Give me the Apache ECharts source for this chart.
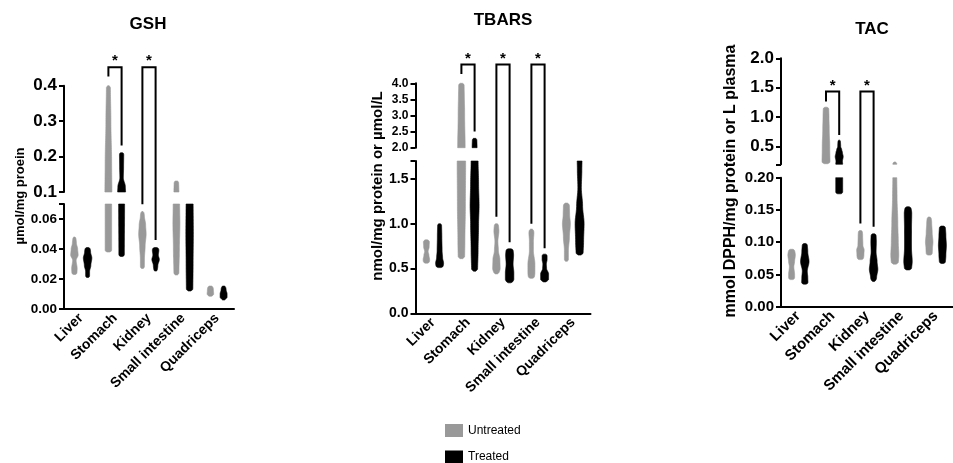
<!DOCTYPE html>
<html><head><meta charset="utf-8">
<script src="https://cdn.jsdelivr.net/npm/echarts@6/dist/echarts.min.js"></script>
<style>html,body{margin:0;padding:0;background:#fff}#c{width:953px;height:463px}</style>
</head><body><div id="c"></div>
<script>
// ---------------- DATA ----------------
const categories = ['Liver', 'Stomach', 'Kidney', 'Small intestine', 'Quadriceps'];
const groupNames = ['Untreated', 'Treated'];

// violin profiles: [value, relative density] from bottom to top, one per category
const gshUntreated = [
  [[0.023,5],[0.027,5.5],[0.0325,3.5],[0.036,7.5],[0.040,6.5],[0.044,4],[0.048,3]],
  [[0.038,6.5],[0.07,6.5],[0.1,7],[0.18,6.5],[0.3,5],[0.4,4]],
  [[0.027,4],[0.033,4],[0.042,5.5],[0.050,7.5],[0.056,6.5],[0.062,4],[0.065,3]],
  [[0.0227,5],[0.04,6],[0.057,7],[0.07,6.5],[0.1,5],[0.131,4.5]],
  [[0.0085,5],[0.01,6.5],[0.013,6],[0.0153,5]]
];
const gshTreated = [
  [[0.021,4],[0.025,4],[0.029,6.5],[0.034,8.5],[0.038,6],[0.041,5]],
  [[0.035,5.5],[0.07,6],[0.1,8],[0.115,7.5],[0.14,3.5],[0.17,4],[0.211,4.3]],
  [[0.0253,3.5],[0.029,4.5],[0.033,7.5],[0.036,5.5],[0.039,6.5],[0.041,6]],
  [[0.012,6.5],[0.03,7],[0.05,7.5],[0.075,7]],
  [[0.006,4],[0.008,7],[0.01,7],[0.013,5],[0.0153,4]]
];
const tbarsUntreated = [
  [[0.56,6],[0.6,6.5],[0.65,5],[0.69,3.5],[0.74,5.5],[0.8,6],[0.82,5]],
  [[0.61,6.5],[0.8,7],[1.2,8],[1.7,8.5],[2.0,7.5],[3.0,6.5],[4.0,5.5]],
  [[0.44,5],[0.5,7.5],[0.6,7],[0.7,4],[0.8,3],[0.92,5],[1.0,4]],
  [[0.39,6],[0.45,7],[0.55,7],[0.7,4],[0.8,4],[0.9,5],[0.94,4]],
  [[0.58,4],[0.7,4],[0.85,6],[1.0,8],[1.1,6.5],[1.2,6],[1.23,5]]
];
const tbarsTreated = [
  [[0.51,7],[0.56,8],[0.62,6],[0.7,5],[0.85,4.5],[1.0,4]],
  [[0.47,6],[0.7,7],[1.0,8],[1.2,9],[1.45,8],[1.7,7],[2.0,5],[2.29,4.5]],
  [[0.34,6],[0.38,8.5],[0.45,8.5],[0.55,7],[0.65,8],[0.72,7]],
  [[0.35,5],[0.38,8],[0.44,8],[0.5,4],[0.55,3.5],[0.6,5],[0.66,5]],
  [[0.65,7],[0.8,8],[1.0,9],[1.2,6],[1.4,3.5],[1.6,4.5],[1.75,5]]
];
const tacUntreated = [
  [[0.042,6],[0.05,6],[0.062,4.5],[0.07,6],[0.08,7.5],[0.089,6]],
  [[0.21,8],[0.5,7.5],[0.8,6.5],[1.0,6],[1.17,5.5]],
  [[0.073,6],[0.08,7],[0.088,7.5],[0.095,5],[0.11,4.5],[0.118,4]],
  [[0.066,7],[0.08,8],[0.1,7],[0.13,6],[0.17,4.5],[0.2,4],[0.24,3]],
  [[0.08,6],[0.09,6.5],[0.1,7.5],[0.115,6],[0.13,5],[0.139,4]]
];
const tacTreated = [
  [[0.035,6.5],[0.045,6],[0.055,5],[0.07,8.5],[0.085,6],[0.098,5]],
  [[0.175,7],[0.2,7],[0.25,6.5],[0.33,8],[0.4,6.5],[0.45,5],[0.5,3],[0.61,2.5]],
  [[0.039,4],[0.045,6],[0.058,8.5],[0.07,7],[0.085,5],[0.1,5.5],[0.113,5]],
  [[0.057,7],[0.07,8.5],[0.09,7],[0.12,7],[0.145,7.5],[0.155,6]],
  [[0.067,6],[0.08,7],[0.095,8],[0.11,7],[0.125,6]]
];

// significance brackets: [category, untreated leg end, treated leg end, bracket top]
const gshBrackets = [[1, 0.426, 0.231, 0.452], [2, 0.0698, 0.046, 0.452]];
const tbarsBrackets = [[1, 4.29, 2.5, 4.58], [2, 1.078, 0.792, 4.58], [3, 1.0, 0.725, 4.58]];
const tacBrackets = [[1, 1.267, 0.699, 1.437], [2, 0.129, 0.124, 1.437]];

// broken axis ranges and tick labels
const gshLowerRange = [0, 0.07], gshUpperRange = [0.1, 0.4];
const tbarsLowerRange = [0, 1.7], tbarsUpperRange = [2.0, 4.0];
const tacLowerRange = [0, 0.2], tacUpperRange = [0.2, 2.0];
const gshLowerTicks = ['0.00','0.02','0.04','0.06'];
const gshUpperTicks = ['0.1','0.2','0.3','0.4'];
const tbarsLowerTicks = ['0.0','0.5','1.0','1.5'];
const tbarsUpperTicks = ['2.0','2.5','3.0','3.5','4.0'];
const tacLowerTicks = ['0.00','0.05','0.10','0.15','0.20'];
const tacUpperTicks = ['0.5','1.0','1.5','2.0'];

const titles = ['GSH', 'TBARS', 'TAC'];
const yNames = ['µmol/mg proein', 'nmol/mg protein or µmol/L', 'mmol DPPH/mg protein or L plasma'];

// ---------------- STYLE / LAYOUT ----------------
const FONT = '"Liberation Sans", Arial, Helvetica, sans-serif';
const COLORS = ['#999999', '#000000'];
const OFFSET = 6.6;       // px shift of each group from the category centre
const DENS_PX = 1.0;      // px of full width per density unit
const CAP_R = 2.2;        // rounded end radius, px

const layouts = [
  {left:64, width:170, lower:{top:204, height:105}, upper:{top:85.7, height:106.3},
   upperFont:17, lowerFont:13.5, xFont:14, lowerInt:0.02, upperInt:0.1, lowerDec:2, upperDec:1,
   title:[148,24], yName:[20,196,13]},
  {left:415.5, width:175, lower:{top:161, height:152.3}, upper:{top:83.3, height:64.4},
   upperFont:12, lowerFont:14, xFont:14, lowerInt:0.5, upperInt:0.5, lowerDec:1, upperDec:1,
   title:[503,20], yName:[378,186,15]},
  {left:781, width:184, lower:{top:177.7, height:129}, upper:{top:58.3, height:106},
   upperFont:17, lowerFont:15, xFont:15, lowerInt:0.05, upperInt:null, lowerDec:2, upperDec:1,
   title:[872,29], yName:[731,181,16]}
];

const panels = [
  {groups:[gshUntreated, gshTreated], lower:gshLowerRange, upper:gshUpperRange, lowerTicks:gshLowerTicks, upperTicks:gshUpperTicks, brackets:gshBrackets},
  {groups:[tbarsUntreated, tbarsTreated], lower:tbarsLowerRange, upper:tbarsUpperRange, lowerTicks:tbarsLowerTicks, upperTicks:tbarsUpperTicks, brackets:tbarsBrackets},
  {groups:[tacUntreated, tacTreated], lower:tacLowerRange, upper:tacUpperRange, lowerTicks:tacLowerTicks, upperTicks:tacUpperTicks, brackets:tacBrackets}
];

function widthAt(prof, v) {
  if (v <= prof[0][0]) return prof[0][1];
  for (let k = 0; k < prof.length - 1; k++) {
    const a = prof[k], b = prof[k+1];
    if (v <= b[0]) {
      const t = (v - a[0]) / (b[0] - a[0]);
      const s = t * t * (3 - 2 * t);
      return a[1] + (b[1] - a[1]) * s;
    }
  }
  return prof[prof.length-1][1];
}

function makeRender(prof2, range, g) {
  return function (params, api) {
    const ci = api.value(0);
    const prof = prof2[ci];
    const vmin = prof[0][0], vmax = prof[prof.length-1][0];
    const lo = Math.max(range[0], vmin), hi = Math.min(range[1], vmax);
    if (hi <= lo) return;
    const off = g === 0 ? -OFFSET : OFFSET;
    const yMinPx = api.coord([ci, vmin])[1], yMaxPx = api.coord([ci, vmax])[1];
    const N = 60, left = [], right = [];
    for (let i = 0; i <= N; i++) {
      const v = lo + (hi - lo) * i / N;
      const c = api.coord([ci, v]);
      let hw = widthAt(prof, v) * DENS_PX / 2;
      const d = Math.min(Math.abs(c[1] - yMinPx), Math.abs(c[1] - yMaxPx));
      if (d < CAP_R) { const r = (CAP_R - d) / CAP_R; hw *= Math.sqrt(Math.max(0, 1 - r * r)) * 0.6 + 0.4; }
      left.push([c[0] + off - hw, c[1]]);
      right.push([c[0] + off + hw, c[1]]);
    }
    return {type:'polygon', shape:{points: left.concat(right.reverse())}, style:{fill: COLORS[g], stroke: COLORS[g], lineWidth: 0.6}};
  };
}

const grid = [], xAxis = [], yAxis = [], series = [];
panels.forEach((p, pi) => {
  const L = layouts[pi];
  ['lower', 'upper'].forEach((seg, si) => {
    const gi = pi * 2 + si;
    grid.push({left: L.left, width: L.width, top: L[seg].top, height: L[seg].height, containLabel: false});
    xAxis.push({
      type: 'category', data: categories, gridIndex: gi, show: seg === 'lower',
      axisLine: {lineStyle: {color: '#000', width: 2}},
      axisTick: {alignWithLabel: true, length: 5, lineStyle: {color: '#000', width: 2}},
      axisLabel: {rotate: 45, interval: 0, margin: 7, color: '#000', fontWeight: 'bold', fontSize: L.xFont, fontFamily: FONT},
      splitLine: {show: false}
    });
    const range = p[seg], ticks = p[seg + 'Ticks'], dec = L[seg + 'Dec'], itv = L[seg + 'Int'];
    const ya = {
      type: 'value', gridIndex: gi, min: range[0], max: range[1],
      axisLine: {show: true, lineStyle: {color: '#000', width: 2}},
      axisTick: {show: true, length: 5, lineStyle: {color: '#000', width: 2}},
      splitLine: {show: false},
      axisLabel: {margin: 7, color: '#000', fontWeight: 'bold', fontSize: L[seg + 'Font'], fontFamily: FONT,
        showMinLabel: true, showMaxLabel: true,
        formatter: v => { const s = (+v).toFixed(dec); return ticks.indexOf(s) >= 0 ? s : ''; }}
    };
    if (itv) ya.interval = itv; else ya.splitNumber = 4;
    yAxis.push(ya);
    [0, 1].forEach(g => {
      series.push({
        type: 'custom', name: groupNames[g], xAxisIndex: gi, yAxisIndex: gi,
        itemStyle: {color: COLORS[g]}, silent: true, animation: false,
        encode: {x: 0, y: 1},
        data: categories.map((c, i) => [i, range[0]]),
        renderItem: makeRender(p.groups[g], range, g)
      });
    });
  });
});

const legendTops = [424, 450.5];
const chart = echarts.init(document.getElementById('c'));
chart.setOption({
  animation: false,
  backgroundColor: '#fff',
  grid, xAxis, yAxis, series,
  legend: groupNames.map((n, g) => ({
    left: 445, top: legendTops[g], itemWidth: 18, itemHeight: 13, padding: 0,
    selectedMode: false, icon: 'rect',
    textStyle: {fontSize: 12, color: '#000', fontFamily: FONT},
    data: [{name: n, icon: 'rect', itemStyle: {color: COLORS[g]}}]
  }))
});

function px(pi, ci, v, dx) {
  const p = panels[pi];
  const gi = pi * 2 + (v <= p.lower[1] ? 0 : 1);
  const pt = chart.convertToPixel({xAxisIndex: gi, yAxisIndex: gi}, [ci, v]);
  return [pt[0] + dx, pt[1]];
}

const graphics = [];
panels.forEach((p, pi) => {
  const L = layouts[pi];
  graphics.push({type: 'text', x: L.title[0], y: L.title[1], style: {text: titles[pi], fill: '#000', fontSize: 17, fontWeight: 'bold', fontFamily: FONT, align: 'center', verticalAlign: 'middle'}});
  graphics.push({type: 'text', x: L.yName[0], y: L.yName[1], rotation: Math.PI / 2, style: {text: yNames[pi], fill: '#000', fontSize: L.yName[2], fontWeight: 'bold', fontFamily: FONT, align: 'center', verticalAlign: 'middle'}});
  p.brackets.forEach(([ci, lv, rv, tv]) => {
    const A = px(pi, ci, lv, -OFFSET), B = px(pi, ci, tv, -OFFSET), C = px(pi, ci, tv, OFFSET), D = px(pi, ci, rv, OFFSET);
    graphics.push({type: 'polyline', shape: {points: [A, B, C, D]}, style: {stroke: '#000', lineWidth: 2, fill: null}, z: 10});
    graphics.push({type: 'text', x: (B[0] + C[0]) / 2, y: B[1] - 6, style: {text: '*', fill: '#000', fontSize: 15, fontWeight: 'bold', fontFamily: FONT, align: 'center', verticalAlign: 'middle'}, z: 10});
  });
});
chart.setOption({graphic: graphics});
</script></body></html>
